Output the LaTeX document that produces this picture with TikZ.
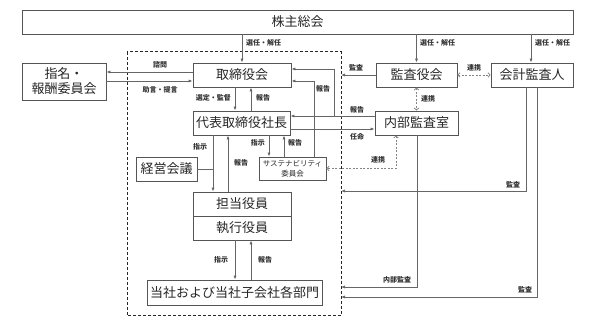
\documentclass[tikz,border=0pt]{standalone}
\usepackage{fontspec}
\setmainfont{Noto Sans CJK JP}
\usetikzlibrary{arrows.meta,calc}
\definecolor{ln}{HTML}{666666}
\definecolor{bx}{HTML}{555555}
\definecolor{lb}{HTML}{333333}
\begin{document}
\begin{tikzpicture}[x=1pt,y=-1pt,
 box/.style={draw=bx,line width=0.9pt,inner sep=0pt,font=\fontsize{13}{15}\selectfont,text=black!85},
 arr/.style={draw=ln,line width=0.8pt,-{Latex[length=4pt,width=3.2pt]}},
 plain/.style={draw=ln,line width=0.8pt},
 darr/.style={draw=ln!80,line width=0.8pt,dash pattern=on 2pt off 1.5pt,{Straight Barb[length=2pt,width=4.5pt]}-{Straight Barb[length=2pt,width=4.5pt]}},
 lbl/.style={font=\fontsize{7}{8}\selectfont\bfseries,text=lb,inner sep=0pt},
 frame/.style={draw=black!85,line width=1pt,dash pattern=on 3pt off 2pt},
]
\useasboundingbox (0,0) rectangle (603,331);
% frame
\coordinate (fr1) at (127,52);
\coordinate (fr2) at (341,316);
\draw[frame] (fr1) rectangle (fr2);
% boxes
\node[box,minimum width=551pt,minimum height=24pt] (soukai) at (297.5,22) {株主総会};
\node[box,minimum width=84pt,minimum height=37pt,align=center] (shimei) at (64,81.5) {指名・\\報酬委員会};
\node[box,minimum width=98pt,minimum height=24pt] (tori) at (242,75) {取締役会};
\node[box,minimum width=97pt,minimum height=24pt] (daihyo) at (241.5,123) {代表取締役社長};
\node[box,minimum width=81pt,minimum height=24pt] (kansa) at (416.5,75) {監査役会};
\node[box,minimum width=82pt,minimum height=24pt] (kaikei) at (532,75) {会計監査人};
\node[box,minimum width=83pt,minimum height=24pt] (naibu) at (416.5,123) {内部監査室};
\node[box,minimum width=67pt,minimum height=23pt,align=center,font=\fontsize{7.5}{10.5}\selectfont] (sust) at (292.5,168.5) {サステナビリティ\\委員会};
\node[box,minimum width=61pt,minimum height=24pt] (keiei) at (166.5,169) {経営会議};
\node[box,minimum width=98pt,minimum height=24pt] (tanto) at (242,204) {担当役員};
\node[box,minimum width=98pt,minimum height=24pt] (shikko) at (242,228) {執行役員};
\node[box,minimum width=175pt,minimum height=25pt] (bumon) at (234.5,292.5) {当社および当社子会社各部門};
% election arrows
\draw[arr] (soukai.south -| tori.north) -- (tori.north);
\node[lbl,anchor=west] (l1) at (246,43) {選任・解任};
\draw[arr] (soukai.south -| kansa.north) -- (kansa.north);
\node[lbl,anchor=west] (l2) at (420,43) {選任・解任};
\draw[arr] ($(soukai.south -| kaikei.north)+(-1,0)$) -- ($(kaikei.north)+(-1,0)$);
\node[lbl,anchor=west] (l3) at (535,43) {選任・解任};
% shimei
\draw[arr] ($(tori.west)+(0,-3)$) -- ($(shimei.east)+(0,-9.5)$);
\node[lbl] (l4) at (160,65) {諮問};
\draw[arr] ($(shimei.east)+(0,-0.5)$) -- ($(tori.west)+(0,6)$);
\node[lbl] (l5) at (160,90) {助言・提言};
% tori - daihyo
\draw[arr] ($(tori.south)+(-7,0)$) -- ($(daihyo.north)+(-6.5,0)$);
\node[lbl,anchor=east] (l6) at (231,98) {選定・監督};
\draw[arr] ($(daihyo.north)+(9.5,0)$) -- ($(tori.south)+(9,0)$);
\node[lbl,anchor=west] (l7) at (256,98) {報告};
% kansa
\draw[arr] (kansa.west) -- (kansa.west -| fr2);
\node[lbl] (l8) at (356,68) {監査};
\draw[darr] (kansa.east) -- (kaikei.west);
\node[lbl] (l9) at (474,68) {連携};
\draw[darr] (kansa.south) -- (naibu.north);
\node[lbl,anchor=west] (l10) at (421,99) {連携};
% naibu reports
\draw[arr] ($(naibu.west)+(0,-7)$) -- ($(daihyo.east)+(0,-7)$);
\node[lbl] (l11) at (357,110) {報告};
\coordinate (j1) at (334,116);
\draw[arr] (j1) |- ($(tori.east)+(0,-6)$);
\draw[arr] ($(sust.north)+(21.5,0)$) |- ($(tori.east)+(0,6)$);
\node[lbl] (l12) at (323,89) {報告};
\draw[arr] ($(daihyo.east)+(0,6)$) -- ($(naibu.west)+(0,6)$);
\node[lbl] (l13) at (357,137) {任命};
% sustainability
\draw[arr] ($(daihyo.south)+(27.5,0)$) -- ($(sust.north)+(-23.5,0)$);
\node[lbl,anchor=east] (l14) at (265,143) {指示};
\draw[arr] ($(sust.north)+(-8.5,0)$) -- ($(daihyo.south)+(42.5,0)$);
\node[lbl,anchor=west] (l15) at (288,143) {報告};
\draw[darr] ($(naibu.south)+(-20.5,0)$) |- (sust.east);
\node[lbl] (l16) at (378,160) {連携};
% keiei / tanto
\draw[arr] ($(daihyo.south)+(-28.5,0)$) -- ($(tanto.north)+(-29,0)$);
\draw[plain] (keiei.east) -- ($(keiei.east)+(16,0)$);
\node[lbl] (l17) at (200,147) {指示};
\draw[arr] ($(tanto.north)+(-14,0)$) -- ($(daihyo.south)+(-13.5,0)$);
\node[lbl] (l18) at (241,163) {報告};
% shikko / bumon
\draw[arr] ($(shikko.south)+(-7,0)$) -- ($(bumon.north)+(0.5,0)$);
\node[lbl] (l19) at (221,260) {指示};
\draw[arr] ($(bumon.north)+(16.5,0)$) -- ($(shikko.south)+(9,0)$);
\node[lbl] (l20) at (265,260) {報告};
% audit lines to frame
\coordinate (fa1) at (341,191);
\coordinate (fa2) at (341,287);
\coordinate (fa3) at (341,297);
\draw[arr] ($(kaikei.south)+(-6,0)$) |- (fa1);
\node[lbl] (l21) at (513,185) {監査};
\draw[arr] ($(naibu.south)+(0.5,0)$) |- (fa2);
\node[lbl] (l22) at (397,280) {内部監査};
\draw[arr] ($(kaikei.south)+(5,0)$) |- (fa3);
\node[lbl] (l23) at (525,290) {監査};
\end{tikzpicture}
\end{document}
